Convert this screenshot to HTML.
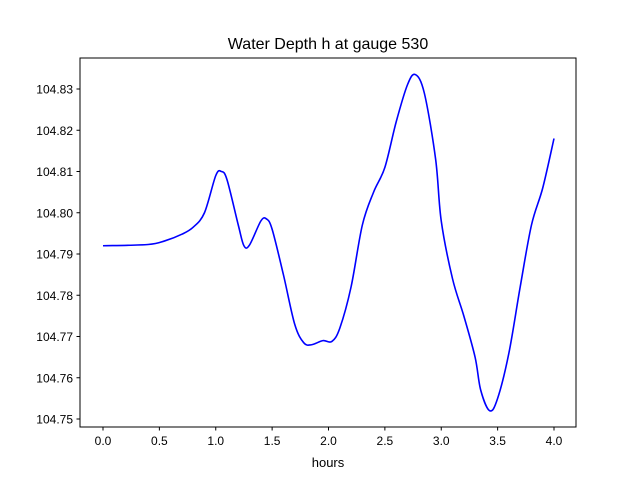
<!DOCTYPE html>
<html><head><meta charset="utf-8"><style>
body{margin:0;background:#fff;}
svg text{font-family:"Liberation Sans","DejaVu Sans",sans-serif;}
</style></head><body>
<svg id="chart" width="640" height="480" xmlns="http://www.w3.org/2000/svg">
<rect width="640" height="480" fill="#fff"/>
<text x="328" y="49" text-anchor="middle" font-size="16" fill="#000">Water Depth h at gauge 530</text>
<g id="plot"></g>
<rect x="80" y="58" width="496" height="369" fill="none" stroke="#000" stroke-width="1"/>
<text x="328" y="467" text-anchor="middle" font-size="13">hours</text>
</svg>
<script>
const hours=[0,0.4,0.55,0.7,0.8,0.9,1.0,1.05,1.1,1.2,1.25,1.3,1.4,1.45,1.5,1.6,1.7,1.78,1.85,1.95,2.03,2.1,2.2,2.3,2.4,2.5,2.6,2.7,2.77,2.85,2.95,3.0,3.1,3.2,3.3,3.35,3.43,3.5,3.6,3.7,3.8,3.9,4.0];
const depth=[104.792,104.7923,104.7932,104.7948,104.7965,104.800,104.809,104.810,104.808,104.797,104.792,104.7922,104.798,104.7985,104.796,104.785,104.773,104.7685,104.768,104.769,104.7688,104.772,104.782,104.797,104.805,104.811,104.822,104.831,104.8335,104.829,104.813,104.798,104.784,104.775,104.765,104.757,104.752,104.755,104.766,104.782,104.797,104.806,104.818];
const xTicks=[0,0.5,1,1.5,2,2.5,3,3.5,4];
const xTickLabels=["0.0","0.5","1.0","1.5","2.0","2.5","3.0","3.5","4.0"];
const yTicks=[104.75,104.76,104.77,104.78,104.79,104.80,104.81,104.82,104.83];
const yTickLabels=["104.75","104.76","104.77","104.78","104.79","104.80","104.81","104.82","104.83"];
const X=v=>103+v*112.75;
const Y=v=>419-(v-104.75)*4125;
const ns="http://www.w3.org/2000/svg";
const g=document.getElementById('plot');
function mk(t,a){const e=document.createElementNS(ns,t);for(const k in a)e.setAttribute(k,a[k]);g.appendChild(e);return e;}
xTicks.forEach((v,i)=>{
 const l=mk('line',{x1:X(v),x2:X(v),y1:427,y2:430.5,stroke:'#000'});
 
 
 const t=mk('text',{x:X(v),y:445,'text-anchor':'middle','font-size':'12'});t.textContent=xTickLabels[i];
 
 
});
yTicks.forEach((v,i)=>{
 const l=mk('line',{x1:76.5,x2:80,y1:Y(v),y2:Y(v),stroke:'#000'});
 
 
 const t=mk('text',{x:73,y:Y(v)+4.5,'text-anchor':'end','font-size':'12'});t.textContent=yTickLabels[i];
 
 
});
const P=hours.map((h,i)=>[X(h),Y(depth[i])]);
let d='M'+P[0][0]+','+P[0][1];
for(let i=0;i<P.length-1;i++){
 const p0=P[Math.max(i-1,0)],p1=P[i],p2=P[i+1],p3=P[Math.min(i+2,P.length-1)];
 const c1=[p1[0]+(p2[0]-p0[0])/6,p1[1]+(p2[1]-p0[1])/6];
 const c2=[p2[0]-(p3[0]-p1[0])/6,p2[1]-(p3[1]-p1[1])/6];
 d+=` C${c1[0]},${c1[1]} ${c2[0]},${c2[1]} ${p2[0]},${p2[1]}`;
}
const path=mk('path',{d:d,fill:'none',stroke:'#0000ff','stroke-width':'1.6'});


</script>
</body></html>
